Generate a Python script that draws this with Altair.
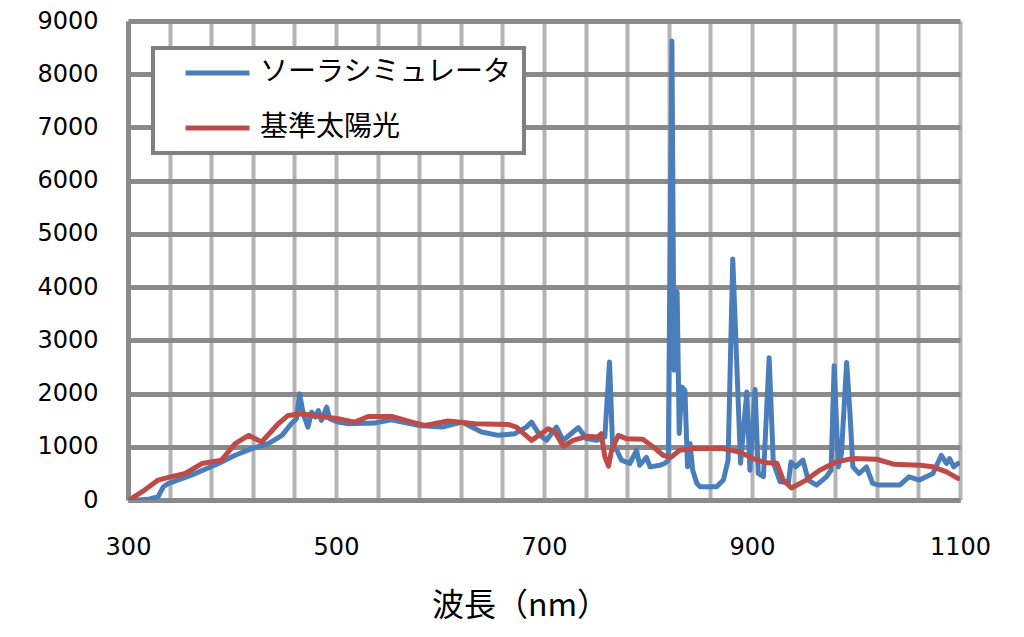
import altair as alt
import pandas as pd

# ソーラシミュレータ (blue)
sim_nm = [300, 310, 319.5, 329, 334, 339, 361, 387, 403, 419, 435, 448, 457, 462, 465, 468.5,
          473, 476.5, 480, 483, 486, 491, 494, 502, 512, 537, 553, 579, 602, 621, 640, 656,
          672, 683, 688, 696, 702.5, 712, 718.5, 728, 733, 741, 750.5, 758.5, 763, 766, 770,
          774.5, 782.5, 789, 792, 798.5, 802, 811.5, 816, 819.5, 823, 825, 828, 830, 832.5,
          835.5, 838, 840.5, 843, 847, 850, 866, 872.5, 877, 881.5, 889, 895, 898, 903, 906,
          911, 916.5, 920.5, 927, 935, 937.5, 942, 949, 954, 962, 971.5, 976, 979, 983, 986,
          991, 994, 997, 1003, 1010, 1016, 1022, 1042, 1051, 1061, 1074, 1082, 1087, 1090,
          1094, 1098, 1100]
sim_val = [0, 0, 12, 62, 249, 312, 467, 686, 841, 966, 1059, 1215, 1433, 1526, 1994, 1620,
           1370, 1650, 1558, 1682, 1495, 1744, 1526, 1464, 1433, 1445, 1507, 1402, 1370, 1464,
           1277, 1215, 1246, 1370, 1464, 1215, 1121, 1370, 1121, 1277, 1359, 1153, 1121, 1184,
           2594, 1000, 934, 748, 686, 934, 654, 800, 623, 654, 686, 750, 8625, 2440, 3906,
           1250, 2125, 2060, 625, 1060, 560, 312, 250, 250, 375, 750, 4530, 690, 2030, 560,
           2075, 500, 440, 2675, 700, 343, 330, 716, 623, 748, 374, 280, 436, 560, 2523, 620,
           870, 2585, 1700, 623, 498, 620, 312, 280, 280, 436, 374, 498, 841, 685, 779, 623,
           685, 700]

# 基準太陽光 (red)
ref_nm = [302, 316, 329, 339, 355, 371, 390, 403, 416, 428.5, 444.5, 454, 467, 489, 502, 518,
          531, 553.5, 573, 585.5, 608, 633.5, 665.5, 673.5, 688, 704, 710.5, 718.5, 728, 741,
          752, 755, 758.5, 762, 765, 771.5, 779, 795, 805, 814.5, 822, 830.5, 843.5, 872, 888,
          901, 914, 924, 930, 938, 952, 965, 981, 997, 1020, 1036, 1061.5, 1074, 1087, 1098,
          1100]
ref_val = [10, 187, 374, 424, 498, 685, 748, 1059, 1215, 1090, 1433, 1589, 1620, 1558, 1526,
           1464, 1570, 1570, 1464, 1402, 1483, 1433, 1420, 1370, 1121, 1339, 1277, 1010, 1121,
           1196, 1184, 1246, 810, 635, 934, 1215, 1153, 1140, 997, 841, 800, 934, 966, 966,
           903, 779, 698, 690, 374, 225, 374, 560, 716, 779, 766, 673, 654, 623, 530, 405, 390]

series_names = ["ソーラシミュレータ", "基準太陽光"]
series_colors = ["#4a7ebb", "#be4b48"]

x_grid = list(range(300, 1101, 40))
y_ticks = list(range(0, 9001, 1000))

df = pd.concat([
    pd.DataFrame({"nm": sim_nm, "v": sim_val, "s": series_names[0], "o": 0}),
    pd.DataFrame({"nm": ref_nm, "v": ref_val, "s": series_names[1], "o": 1}),
])

num_font = "DejaVu Sans"
jp_font = "Noto Sans CJK JP"

chart = alt.Chart(df).mark_line(strokeWidth=5, strokeJoin="round", clip=True).encode(
    x=alt.X("nm:Q",
            scale=alt.Scale(domain=[300, 1100], nice=False, zero=False),
            axis=alt.Axis(values=x_grid, format="d",
                          labelExpr="datum.value % 200 == 100 ? datum.label : ''",
                          title="波長（nm）",
                          titleFont=jp_font, titleFontSize=32, titleFontWeight="normal",
                          titleColor="#000000",
                          titleX=392, titleY=105, titleBaseline="middle", titleAlign="center",
                          labelFont=num_font, labelFontSize=24, labelColor="#000000",
                          labelBaseline="middle", labelPadding=47, labelFlush=False,
                          labelOverlap=False,
                          tickSize=0, grid=True, gridColor="#b4b4b4", gridWidth=4,
                          domainColor="#8a8a8a", domainWidth=5)),
    y=alt.Y("v:Q",
            scale=alt.Scale(domain=[0, 9000], nice=False),
            axis=alt.Axis(values=y_ticks, title=None, format="d",
                          labelFont=num_font, labelFontSize=24, labelColor="#000000",
                          labelPadding=30, labelFlush=False,
                          tickSize=0, grid=True, gridColor="#8a8a8a", gridWidth=5,
                          domainColor="#8a8a8a", domainWidth=5)),
    color=alt.Color("s:N",
                    scale=alt.Scale(domain=series_names, range=series_colors),
                    legend=alt.Legend(title=None, orient="none", legendX=25, legendY=27,
                                      symbolType="stroke", symbolSize=4096,
                                      symbolStrokeWidth=5, symbolOffset=19,
                                      clipHeight=28, labelLimit=500,
                                      labelFont=jp_font, labelFontSize=28,
                                      labelColor="#000000", labelOffset=8,
                                      rowPadding=27, padding=11,
                                      fillColor="#ffffff", strokeColor="#808080")),
    order=alt.Order("o:Q"),
    detail="s:N",
).properties(
    width=832, height=479,
    autosize="none",
    padding={"left": 120, "top": 13, "right": 56, "bottom": 130},
).configure_view(stroke=None).configure_legend(strokeWidth=4)

chart.save("out.html", embed_options={"renderer": "svg", "actions": False})
